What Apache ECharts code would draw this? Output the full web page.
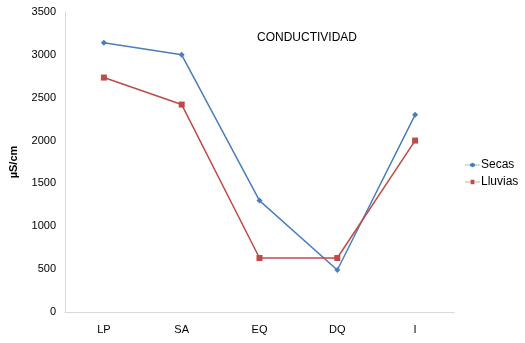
<!DOCTYPE html>
<html>
<head>
<meta charset="utf-8">
<script src="https://cdn.jsdelivr.net/npm/echarts@6/dist/echarts.min.js"></script>
<style>
  html, body { margin: 0; padding: 0; background: #fff; }
  #chart { width: 525px; height: 343px; }
</style>
</head>
<body>
<div id="chart"></div>
<script>
// Conductivity by sampling site, dry vs rainy season
const categories = ['LP', 'SA', 'EQ', 'DQ', 'I'];
const secas = [3140, 3000, 1300, 490, 2300];
const lluvias = [2735, 2420, 630, 630, 2000];
const yTicks = { min: 0, max: 3500, interval: 500 };

const FONT = '"Liberation Sans", Arial, sans-serif';
const chart = echarts.init(document.getElementById('chart'));

chart.setOption({
  animation: false,
  title: {
    text: 'CONDUCTIVIDAD',
    left: 252, top: 27,
    textStyle: { fontFamily: FONT, fontSize: 12, fontWeight: 'normal', color: '#000' }
  },
  legend: {
    orient: 'vertical',
    left: 460, top: 154,
    itemWidth: 15, itemHeight: 6, itemGap: 5,
    textStyle: { fontFamily: FONT, fontSize: 12, color: '#000', padding: [0, 0, 0, -4] },
    data: [
      { name: 'Secas', icon: 'path://M0,3L8,3L8,2L12,0L16,2L16,3L24,3L24,4L16,4L16,5L12,7L8,5L8,4L0,4Z' },
      { name: 'Lluvias', icon: 'path://M0,3L9,3L9,0L15,0L15,3L24,3L24,4L15,4L15,7L9,7L9,4L0,4Z' }
    ]
  },
  grid: { left: 63, right: 71, top: 12, bottom: 31 },
  xAxis: {
    type: 'category',
    data: categories,
    boundaryGap: true,
    axisLine: { lineStyle: { color: '#d9d9d9', width: 1 } },
    axisTick: { show: false },
    axisLabel: { fontFamily: FONT, fontSize: 11, color: '#000', margin: 12 }
  },
  yAxis: {
    type: 'value',
    min: yTicks.min, max: yTicks.max, interval: yTicks.interval,
    name: 'µS/cm',
    nameLocation: 'middle',
    nameGap: 46,
    nameRotate: 90,
    nameTextStyle: { fontFamily: FONT, fontSize: 11, fontWeight: 'bold', color: '#000' },
    axisLine: { show: true, lineStyle: { color: '#d9d9d9', width: 1 } },
    axisTick: { show: false },
    splitLine: { show: false },
    axisLabel: { fontFamily: FONT, fontSize: 11, color: '#000', margin: 9, formatter: v => String(v) }
  },
  series: [
    {
      name: 'Secas', type: 'line', data: secas,
      symbol: 'diamond', symbolSize: 6,
      itemStyle: { color: '#4a7ebb' },
      lineStyle: { color: '#4a7ebb', width: 1.5 }
    },
    {
      name: 'Lluvias', type: 'line', data: lluvias,
      symbol: 'rect', symbolSize: 6,
      itemStyle: { color: '#be4b48' },
      lineStyle: { color: '#be4b48', width: 1.5 }
    }
  ]
});
</script>
</body>
</html>
